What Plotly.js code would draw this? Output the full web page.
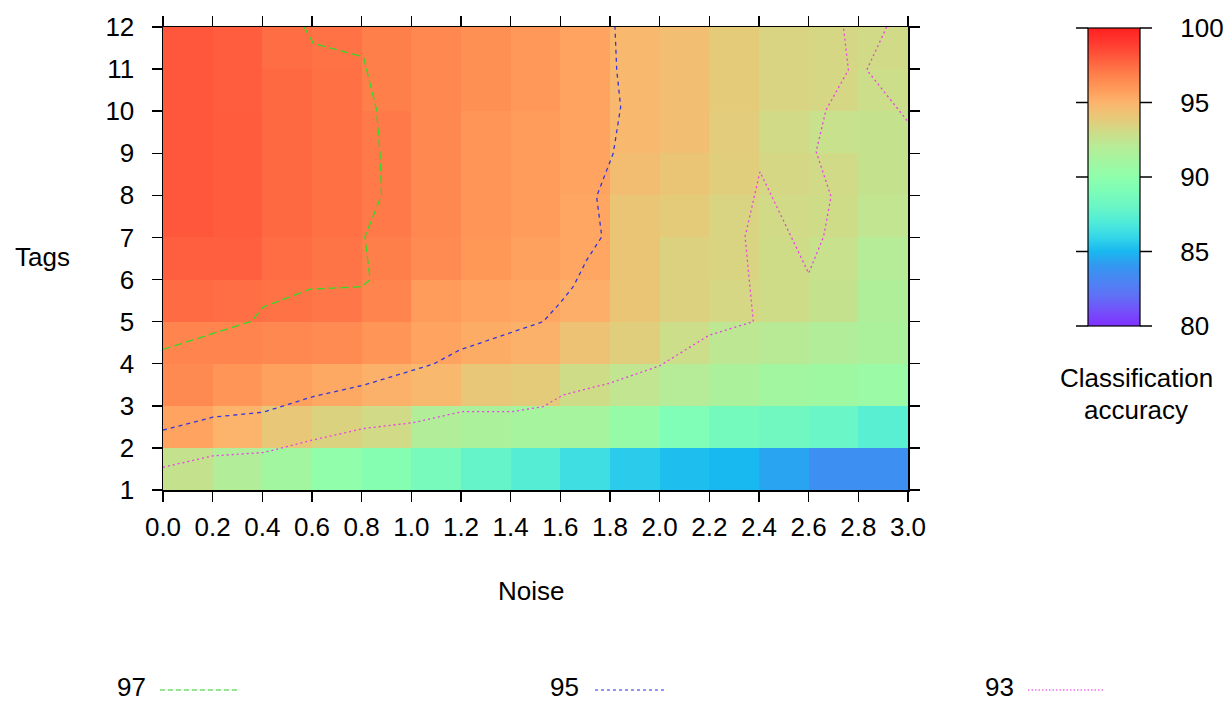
<!DOCTYPE html>
<html>
<head>
<meta charset="utf-8">
<script src="https://cdn.plot.ly/plotly-3.0.1.min.js"></script>
<style>
  html, body { margin: 0; padding: 0; background: #ffffff; }
  #chart { width: 1230px; height: 702px; }
</style>
</head>
<body>
<div id="chart"></div>
<script>
// ---- data ----
// cell edges
const noiseEdges = [0.0, 0.2, 0.4, 0.6, 0.8, 1.0, 1.2, 1.4, 1.6, 1.8, 2.0, 2.2, 2.4, 2.6, 2.8, 3.0];
const tagEdges = [1, 2, 3, 4, 5, 6, 7, 8, 9, 10, 11, 12];

// classification accuracy, one row per tag band (bottom band 1-2 first), one value per noise band
const acc1  = [92.6, 91.8, 91.0, 90.1, 89.5, 88.7, 87.8, 87.2, 86.3, 85.6, 85.2, 85.0, 84.4, 83.6, 83.6];
const acc2  = [95.6, 95.0, 94.0, 93.5, 93.1, 91.8, 91.45, 91.2, 91.2, 90.4, 89.2, 88.6, 88.4, 88.0, 87.3];
const acc3  = [96.5, 96.1, 95.7, 95.4, 95.1, 94.8, 94.0, 93.85, 93.0, 92.45, 92.0, 91.45, 91.0, 90.8, 90.6];
const acc4  = [96.7, 96.7, 96.6, 96.45, 96.1, 95.6, 95.3, 95.1, 94.3, 93.7, 92.9, 92.3, 92.1, 91.8, 91.45];
const acc5  = [97.5, 97.4, 97.3, 97.15, 96.7, 95.85, 95.6, 95.5, 95.2, 94.15, 93.55, 93.25, 93.0, 92.6, 91.7];
const acc6  = [97.85, 97.85, 97.45, 97.25, 96.9, 96.45, 96.05, 95.7, 95.5, 94.15, 93.55, 93.4, 93.0, 92.7, 92.0];
const acc7  = [98.1, 97.95, 97.55, 97.35, 97.1, 96.6, 96.1, 95.85, 95.5, 94.15, 93.85, 93.4, 93.1, 93.0, 92.45];
const acc8  = [98.1, 97.95, 97.55, 97.35, 97.1, 96.6, 96.1, 95.85, 95.6, 94.55, 94.15, 93.7, 93.25, 93.1, 92.6];
const acc9  = [98.1, 97.95, 97.55, 97.35, 97.1, 96.6, 96.1, 95.85, 95.6, 94.8, 94.5, 93.8, 93.1, 92.7, 92.6];
const acc10 = [98.1, 97.9, 97.55, 97.35, 96.9, 96.6, 96.3, 96.0, 95.6, 94.8, 94.5, 93.85, 93.4, 93.25, 92.9];
const acc11 = [98.1, 97.9, 97.45, 97.3, 96.9, 96.6, 96.3, 96.0, 95.6, 94.8, 94.5, 93.85, 93.4, 93.25, 93.1];

// contour lines
const c97Noise = [0.0, 0.2, 0.357, 0.404, 0.592, 0.80, 0.834, 0.813, 0.88, 0.874, 0.86, 0.807, 0.605, 0.568];
const c97Tags  = [4.34, 4.705, 5.01, 5.35, 5.77, 5.83, 6.0, 7.02, 8.0, 9.0, 10.03, 11.29, 11.61, 12.0];

const c95Noise = [0.0, 0.2, 0.404, 0.605, 0.807, 1.0, 1.088, 1.196, 1.531, 1.6, 1.652, 1.706, 1.767, 1.746, 1.813, 1.843, 1.827, 1.82];
const c95Tags  = [2.425, 2.73, 2.85, 3.22, 3.49, 3.84, 3.99, 4.33, 5.0, 5.45, 5.83, 6.46, 7.02, 7.97, 9.0, 10.1, 10.98, 12.0];

const c93aNoise = [0.0, 0.2, 0.404, 0.605, 0.807, 1.008, 1.203, 1.404, 1.531, 1.612, 1.8, 2.0, 2.2, 2.377, 2.344, 2.404, 2.6, 2.66, 2.69, 2.63, 2.67, 2.76, 2.74];
const c93aTags  = [1.54, 1.81, 1.89, 2.19, 2.46, 2.6, 2.86, 2.86, 2.98, 3.26, 3.54, 3.95, 4.68, 5.0, 7.02, 8.56, 6.15, 7.02, 7.97, 9.04, 10.03, 10.98, 12.0];
const c93bNoise = [2.914, 2.834, 3.0];
const c93bTags  = [12.0, 10.98, 9.75];

const levelLabels = ['97', '95', '93'];
const colorbarTicks = [80, 85, 90, 95, 100];

// palette stops
const scaleValues = [80, 81, 82, 83, 84, 85, 86, 87, 88, 89, 90, 91, 92, 93, 94, 95, 96, 97, 98, 99, 100];
const scaleColors = ['#8030FF', '#7450FA', '#6070F6', '#4C84F4', '#3496F0', '#18B8F0', '#36D8E8', '#50ECD8',
                     '#6AF6C6', '#7CFCB8', '#8EFFAC', '#A2F6A0', '#B6EC98', '#CEDC88', '#E8C878', '#FCB46C',
                     '#FF9858', '#FF7C4A', '#FF5A3C', '#FF3A30', '#FF2020'];

// ---- build ----
const zRows = [acc1, acc2, acc3, acc4, acc5, acc6, acc7, acc8, acc9, acc10, acc11];
const zmin = scaleValues[0], zmax = scaleValues[scaleValues.length - 1];
const colorscale = scaleValues.map((v, i) => [(v - zmin) / (zmax - zmin), scaleColors[i]]);

const FONT = 'Liberation Sans, Arial, Helvetica, sans-serif';
const FS = 26;

// plot area in pixels
const L = 163, R = 908, T = 27, B = 490, W = 1230, H = 702;
const px = p => (p - L) / (R - L);
const py = p => (B - p) / (B - T);

// colorbar geometry (pixels)
const CB_L = 1088, CB_R = 1140, CB_T = 28, CB_B = 326, CB_TICK = 12;

const green = '#34D826', blue = '#3434E0', magenta = '#E640E6';
const greenL = '#70E070', blueL = '#7070EE', magentaL = '#EE70EE';

const traces = [
  {
    type: 'heatmap',
    x: noiseEdges,
    y: tagEdges,
    z: zRows,
    zmin: zmin, zmax: zmax,
    colorscale: colorscale,
    zsmooth: false,
    hoverinfo: 'skip',
    colorbar: {
      x: px(CB_L), xanchor: 'left', xpad: 0,
      y: py(CB_T), yanchor: 'top', ypad: 0,
      len: CB_B - CB_T, lenmode: 'pixels',
      thickness: CB_R - CB_L, thicknessmode: 'pixels',
      outlinewidth: 1.2, outlinecolor: '#000',
      tickmode: 'array', tickvals: colorbarTicks, ticktext: colorbarTicks.map(String),
      ticks: 'outside', ticklen: 35, tickwidth: 1, tickcolor: 'rgba(0,0,0,0)',
      tickfont: { family: FONT, size: FS, color: '#000' }
    }
  },
  { type: 'scatter', mode: 'lines', x: c97Noise, y: c97Tags, line: { color: green, width: 1.3, dash: '8px,4px' }, showlegend: false, hoverinfo: 'skip' },
  { type: 'scatter', mode: 'lines', x: c95Noise, y: c95Tags, line: { color: blue, width: 1.3, dash: '4px,4px' }, showlegend: false, hoverinfo: 'skip' },
  { type: 'scatter', mode: 'lines', x: c93aNoise, y: c93aTags, line: { color: magenta, width: 1.3, dash: '2px,3px' }, showlegend: false, hoverinfo: 'skip' },
  { type: 'scatter', mode: 'lines', x: c93bNoise, y: c93bTags, line: { color: magenta, width: 1.3, dash: '2px,3px' }, showlegend: false, hoverinfo: 'skip' }
];

const axisCommon = {
  ticks: 'outside', ticklen: 10, tickwidth: 1.5, tickcolor: '#000',
  showline: true, linecolor: '#000', linewidth: 1.5, mirror: 'ticks',
  showgrid: false, zeroline: false,
  tickfont: { family: FONT, size: FS, color: '#000' }
};

// colorbar ticks on both sides
const shapes = [];
colorbarTicks.forEach(v => {
  const yp = CB_B - (v - zmin) / (zmax - zmin) * (CB_B - CB_T);
  shapes.push({ type: 'line', xref: 'paper', yref: 'paper', x0: px(CB_L - CB_TICK), x1: px(CB_L), y0: py(yp), y1: py(yp),
                line: { color: '#000', width: 1.5 } });
  shapes.push({ type: 'line', xref: 'paper', yref: 'paper', x0: px(CB_R), x1: px(CB_R + CB_TICK), y0: py(yp), y1: py(yp),
                line: { color: '#000', width: 1.5 } });
});

// legend (text followed by line sample)
const legendItems = [
  { label: levelLabels[0], tx: 131, x0: 160, x1: 238, color: greenL, dash: '5px,3px' },
  { label: levelLabels[1], tx: 564, x0: 595, x1: 667, color: blueL, dash: '3px,3px' },
  { label: levelLabels[2], tx: 999, x0: 1028, x1: 1104, color: magentaL, dash: '1.5px,2px' }
];
legendItems.forEach(it => {
  shapes.push({ type: 'line', xref: 'paper', yref: 'paper', x0: px(it.x0), x1: px(it.x1), y0: py(690), y1: py(690),
                line: { color: it.color, width: 1.5, dash: it.dash } });
});

const annotations = [
  { text: 'Tags', x: px(42), y: py(257), xref: 'paper', yref: 'paper', showarrow: false, xanchor: 'center', yanchor: 'middle',
    font: { family: FONT, size: FS, color: '#000' } },
  { text: 'Noise', x: px(531), y: py(591), xref: 'paper', yref: 'paper', showarrow: false, xanchor: 'center', yanchor: 'middle',
    font: { family: FONT, size: FS, color: '#000' } },
  { text: 'Classification', x: px(1136), y: py(394), xref: 'paper', yref: 'paper', showarrow: false, xanchor: 'center', yanchor: 'bottom',
    borderpad: 0, font: { family: FONT, size: FS, color: '#000' } },
  { text: 'accuracy', x: px(1136), y: py(394), xref: 'paper', yref: 'paper', showarrow: false, xanchor: 'center', yanchor: 'top',
    borderpad: 0, font: { family: FONT, size: FS, color: '#000' } }
];
legendItems.forEach(it => {
  annotations.push({ text: it.label, x: px(it.tx), y: py(687), xref: 'paper', yref: 'paper', showarrow: false,
                     xanchor: 'center', yanchor: 'middle', borderpad: 0, font: { family: FONT, size: FS, color: '#000' } });
});

const layout = {
  width: W, height: H,
  margin: { l: L, r: W - R, t: T, b: H - B, pad: 0, autoexpand: false },
  paper_bgcolor: '#ffffff', plot_bgcolor: '#ffffff',
  showlegend: false,
  xaxis: Object.assign({}, axisCommon, {
    range: [noiseEdges[0], noiseEdges[noiseEdges.length - 1]],
    tickmode: 'array', tickvals: noiseEdges, ticktext: noiseEdges.map(v => v.toFixed(1)),
    ticklabelstandoff: 3
  }),
  yaxis: Object.assign({}, axisCommon, {
    range: [tagEdges[0], tagEdges[tagEdges.length - 1]],
    tickmode: 'array', tickvals: tagEdges, ticktext: tagEdges.map(String),
    ticklabelstandoff: 12
  }),
  shapes: shapes,
  annotations: annotations
};

Plotly.newPlot('chart', traces, layout, { displayModeBar: false, staticPlot: true });
</script>
</body>
</html>
